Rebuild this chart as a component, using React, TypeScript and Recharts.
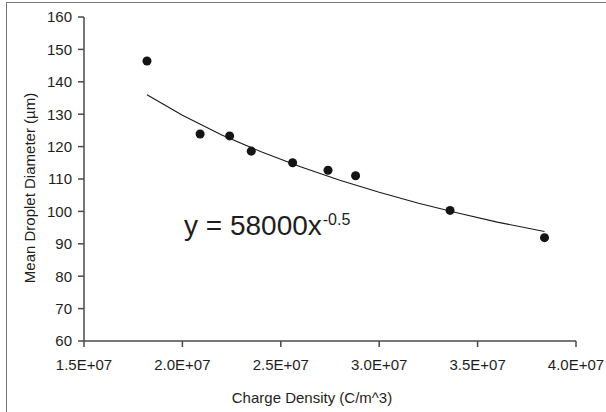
import React from "react";
import { ScatterChart, Scatter, XAxis, YAxis, ZAxis } from "recharts";

const chargeDensity = [1.82e7, 2.09e7, 2.24e7, 2.35e7, 2.56e7, 2.74e7, 2.88e7, 3.36e7, 3.84e7];
const dropletDiameter = [146.4, 123.9, 123.3, 118.6, 115.0, 112.7, 111.0, 100.3, 91.9];

const trendX = [1.82e7, 2.0e7, 2.2e7, 2.4e7, 2.6e7, 2.8e7, 3.0e7, 3.2e7, 3.4e7, 3.6e7, 3.84e7];
const trendY = [136.0, 129.7, 123.6, 118.4, 113.8, 109.6, 105.9, 102.5, 99.5, 96.7, 93.8];

const xTicks = [1.5e7, 2.0e7, 2.5e7, 3.0e7, 3.5e7, 4.0e7];
const yTicks = [60, 70, 80, 90, 100, 110, 120, 130, 140, 150, 160];

const xTitle = "Charge Density (C/m^3)";
const yTitle = "Mean Droplet Diameter (\u00b5m)";
const equationMain = "y = 58000x";
const equationExp = "-0.5";

const points = chargeDensity.map((x, i) => ({ x, y: dropletDiameter[i] }));
const trend = trendX.map((x, i) => ({ x, y: trendY[i] }));

const FONT = "'Liberation Sans', Arial, Helvetica, sans-serif";
const AXIS = "#4a4a4a";
const TEXT = "#1e1e1e";

const fmtX = (v: number) => `${(v / 1e7).toFixed(1)}E+07`;

export default function App() {
  return (
    <div
      style={{
        position: "absolute",
        left: 0,
        top: 0,
        width: 606,
        height: 412,
        overflow: "hidden",
        background: "#fff",
        fontFamily: FONT,
      }}
    >
      <div
        style={{
          position: "absolute",
          left: 6,
          top: 2,
          width: 800,
          height: 600,
          borderLeft: "1.5px solid #777",
          borderTop: "1.5px solid #777",
        }}
      />
      <ScatterChart
        width={606}
        height={412}
        margin={{ top: 17, right: 30, bottom: 0, left: 0 }}
        style={{ position: "absolute", left: 0, top: 0 }}
      >
        <ZAxis range={[56, 56]} />
        <XAxis
          dataKey="x"
          type="number"
          domain={[1.5e7, 4.0e7]}
          ticks={xTicks}
          tickFormatter={fmtX}
          allowDataOverflow
          height={71}
          stroke={AXIS}
          strokeWidth={1.5}
          tickSize={6}
          tick={{ fill: TEXT, fontSize: 15, fontFamily: FONT, dy: 10 }}
        />
        <XAxis
          xAxisId="top"
          orientation="top"
          dataKey="x"
          type="number"
          domain={[1.5e7, 4.0e7]}
          height={0}
          tick={false}
          tickLine={false}
          stroke={AXIS}
          strokeWidth={1.5}
        />
        <YAxis
          dataKey="y"
          type="number"
          domain={[60, 160]}
          ticks={yTicks}
          allowDataOverflow
          width={84}
          stroke={AXIS}
          strokeWidth={1.5}
          tickSize={6}
          tick={{ fill: TEXT, fontSize: 15, fontFamily: FONT, dx: -4 }}
        />
        <YAxis
          yAxisId="right"
          orientation="right"
          dataKey="y"
          type="number"
          domain={[60, 160]}
          width={0}
          tick={false}
          tickLine={false}
          stroke={AXIS}
          strokeWidth={1.5}
        />
        <Scatter
          data={trend}
          line={{ stroke: "#1a1a1a", strokeWidth: 1.1 }}
          lineType="joint"
          shape={() => null}
          isAnimationActive={false}
        />
        <Scatter data={points} fill="#141414" isAnimationActive={false} />
      </ScatterChart>
      <svg
        width={606}
        height={412}
        style={{ position: "absolute", left: 0, top: 0, pointerEvents: "none" }}
      >
        <text x={312} y={403} textAnchor="middle" fontSize={15} fontFamily={FONT} fill={TEXT}>
          {xTitle}
        </text>
        <text
          x={0}
          y={0}
          transform="translate(35,188) rotate(-90)"
          textAnchor="middle"
          fontSize={15}
          fontFamily={FONT}
          fill={TEXT}
        >
          {yTitle}
        </text>
        <text x={184} y={235} fontSize={28} fontFamily={FONT} fill={TEXT}>
          {equationMain}
          <tspan fontSize={16} dy={-10} dx={1}>
            {equationExp}
          </tspan>
        </text>
      </svg>
    </div>
  );
}
